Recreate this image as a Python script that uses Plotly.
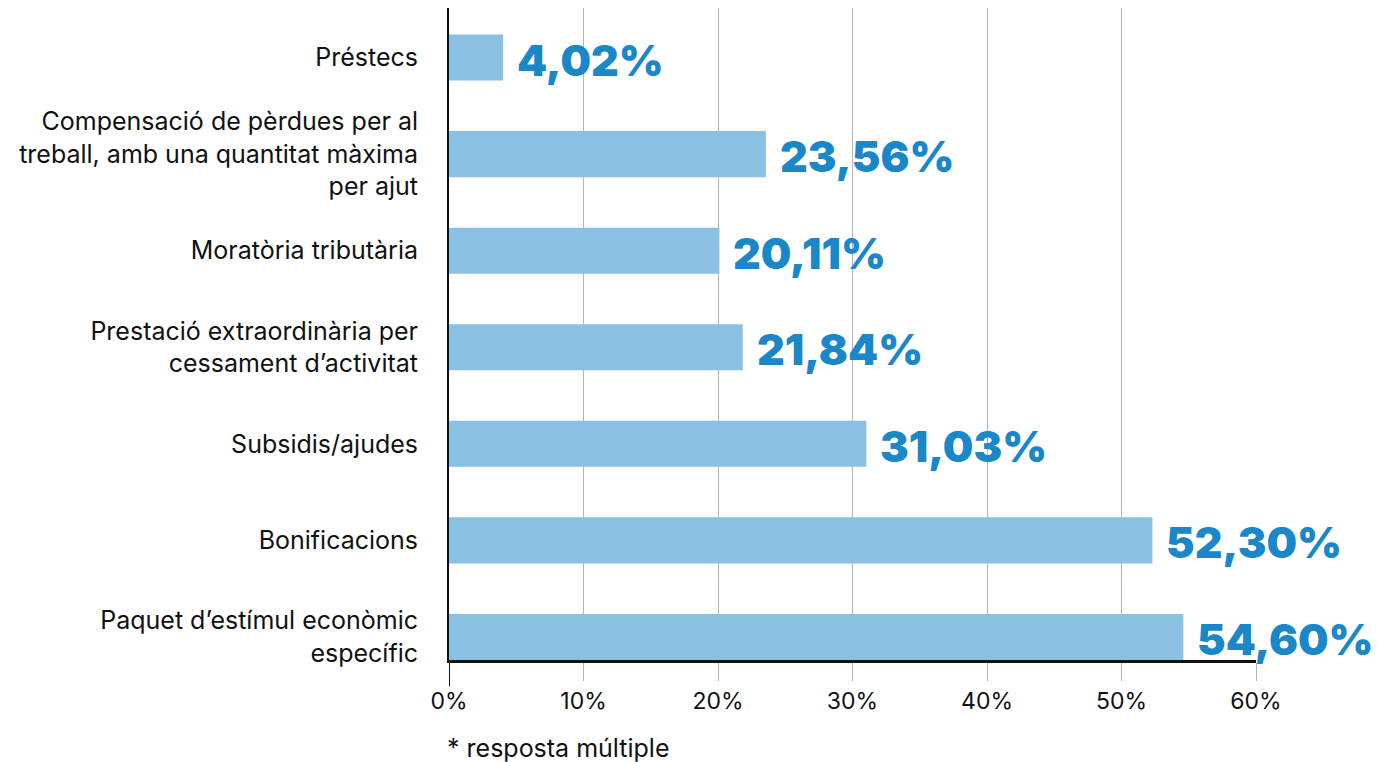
import plotly.graph_objects as go

categories = [
    "Préstecs",
    "Compensació de pèrdues per al<br>treball, amb una quantitat màxima<br>per ajut",
    "Moratòria tributària",
    "Prestació extraordinària per<br>cessament d’activitat",
    "Subsidis/ajudes",
    "Bonificacions",
    "Paquet d’estímul econòmic<br>específic",
]
values = [4.02, 23.56, 20.11, 21.84, 31.03, 52.30, 54.60]
value_labels = ["4,02%", "23,56%", "20,11%", "21,84%", "31,03%", "52,30%", "54,60%"]
tick_vals = [0, 10, 20, 30, 40, 50, 60]
tick_text = ["0%", "10%", "20%", "30%", "40%", "50%", "60%"]
footnote = "* resposta múltiple"

positions = list(range(len(categories)))
BAR_W = 0.477

fig = go.Figure()
fig.add_trace(go.Bar(
    x=values, y=positions, orientation="h",
    marker=dict(color="#8ac0e2", line=dict(width=0)),
    width=BAR_W, hoverinfo="skip",
))

for v, p, t in zip(values, positions, value_labels):
    fig.add_annotation(
        x=v, y=p, text=t, xref="x", yref="y",
        xanchor="left", yanchor="middle", showarrow=False, xshift=12, yshift=-2,
        font=dict(family="Inter", size=43, color="#1a87c9", weight=900),
    )

H = 754
plot_top, plot_bottom = 0, 652

fig.add_annotation(
    x=0, y=-((740 - plot_bottom) / (plot_bottom - plot_top)), xref="x", yref="paper",
    text=footnote, showarrow=False,
    xanchor="left", yanchor="middle", xshift=-4,
    font=dict(family="Inter", size=25, color="#111111"),
)

# extension of the y axis line below the x axis
fig.add_shape(type="line", xref="x", yref="paper", x0=0, x1=0, y0=0, y1=-0.04,
              line=dict(color="#111111", width=2))

fig.update_layout(
    width=1373, height=H,
    margin=dict(l=441, r=125, t=plot_top, b=H - plot_bottom),
    plot_bgcolor="white", paper_bgcolor="white",
    showlegend=False,
    font=dict(family="Inter", color="#111111"),
    xaxis=dict(
        range=[0, 60], tickvals=tick_vals, ticktext=tick_text,
        showgrid=True, gridcolor="#b5b5b5", gridwidth=1,
        showline=True, linecolor="#111111", linewidth=3,
        ticks="outside", ticklen=18, tickcolor="#b5b5b5", tickwidth=1,
        tickfont=dict(family="Inter", size=23, color="#111111"),
        zeroline=False, fixedrange=True,
    ),
    yaxis=dict(
        range=[6 + BAR_W / 2, -0.513],
        tickvals=positions, ticktext=categories,
        showgrid=False, zeroline=False,
        showline=True, linecolor="#111111", linewidth=2,
        ticks="", ticklabelstandoff=24,
        tickfont=dict(family="Inter", size=25, color="#111111"),
        fixedrange=True,
    ),
)

fig.write_html("out.html")
